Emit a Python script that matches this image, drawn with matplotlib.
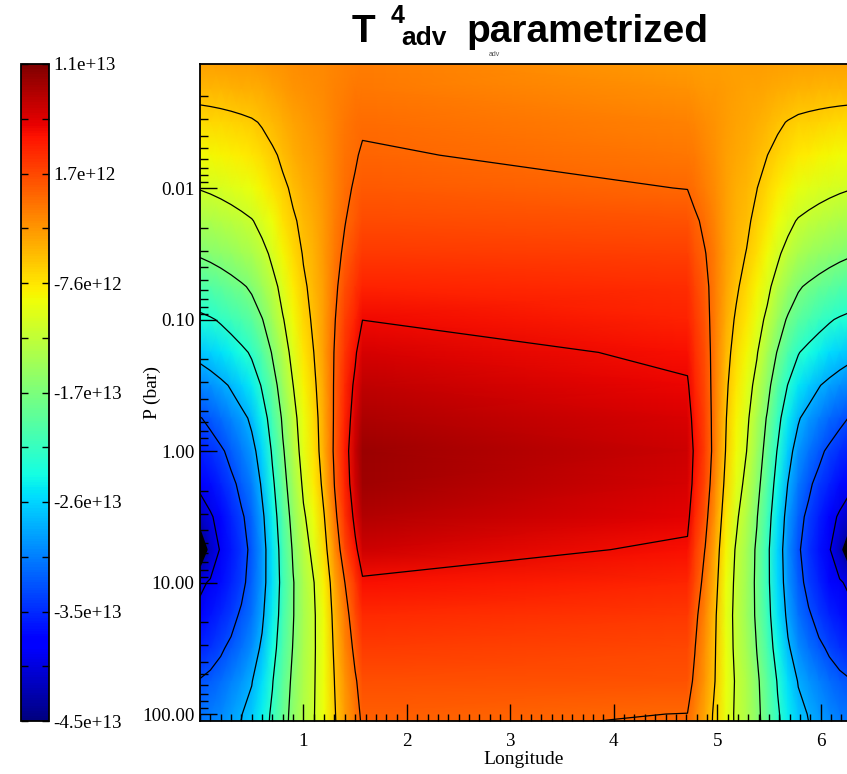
import matplotlib
matplotlib.use('Agg')
import matplotlib.pyplot as plt
import numpy as np
from matplotlib.ticker import FixedLocator, LogLocator, MultipleLocator, NullFormatter

# colour range of the field (units of 1e13)
vmin, vmax = -4.48, 1.10
cbar_labels = ['-4.5e+13', '-3.5e+13', '-2.6e+13', '-1.7e+13', '-7.6e+12', '1.7e+12', '1.1e+13']

# pressure levels, log10(bar)
logp = [-3.0, -2.75, -2.5, -2.25, -2.0, -1.75, -1.5, -1.25, -1.0, -0.75, -0.5,
        -0.25, 0.0, 0.25, 0.5, 0.75, 1.0, 1.25, 1.5, 1.75, 2.0, 2.25]

# night-side background value (1e13)
night = [-0.32, -0.49, -0.70, -0.90, -1.12, -1.38, -1.66, -2.00, -2.34, -2.71, -3.06,
         -3.38, -3.62, -3.80, -3.94, -4.00, -3.92, -3.77, -3.58, -3.34, -3.17, -3.06]
# depth of the cold spot at lon = 0 (1e13)
hole = [0, 0, 0, 0, 0, 0, 0, 0, 0, 0, 0,
        0, 0, 0.045, 0.234, 0.485, 0.084, 0, 0, 0, 0, 0]
# dayside values at the west (lon = pi/2) and east (lon = 3pi/2) terminators, 1e13
day_west = [-0.16, -0.10, -0.04, 0.01, 0.07, 0.15, 0.26, 0.40, 0.54, 0.68, 0.79,
            0.88, 0.96, 0.94, 0.85, 0.71, 0.49, 0.35, 0.24, 0.12, 0.04, -0.02]
day_east = [-0.35, -0.27, -0.18, -0.10, -0.02, 0.10, 0.21, 0.32, 0.40, 0.49, 0.57,
            0.65, 0.71, 0.68, 0.60, 0.49, 0.38, 0.26, 0.18, 0.10, -0.02, -0.07]

# night-side longitude profiles (0 = lon 0, 1 = terminator)
lon_half = [0, 0.1, 0.2, 0.3, 0.4, 0.5, 0.6, 0.7, 0.8, 0.9, 1.0, 1.1, 1.2, 1.3,
            1.4, 1.5, np.pi / 2]
w_night = [0, 0.02, 0.045, 0.075, 0.11, 0.15, 0.22, 0.31, 0.41, 0.50, 0.575, 0.63,
           0.70, 0.80, 0.885, 0.95, 1.0]
h_hole = [1, 0.55, 0.2, 0.05, 0, 0, 0, 0, 0, 0, 0, 0, 0, 0, 0, 0, 0]

# build the table
p = 10 ** np.array(logp)
night = np.array(night)[:, None]
hole = np.array(hole)[:, None]
w = np.array(w_night)[None, :]
h = np.array(h_hole)[None, :]
west = night + (np.array(day_west)[:, None] - night) * w - hole * h
east = night + (np.array(day_east)[:, None] - night) * w[:, ::-1] - hole * h[:, ::-1]
field = np.hstack([west, east]) * 1e13
lon_half = np.array(lon_half)
lon = np.concatenate([lon_half, 2 * np.pi - lon_half[::-1]])

rng = (vmax - vmin) * 1e13
levels = vmin * 1e13 + rng * np.array([0.1, 0.2, 0.3, 0.4, 0.5, 0.6, 0.7, 0.8, 0.9])
blob_level = vmin * 1e13 + rng * 0.035

serif = 'Liberation Serif'
fig = plt.figure(figsize=(8.47, 7.74), dpi=100)
W_px, H_px = 847, 774
ax = fig.add_axes([200 / W_px, 1 - 721 / H_px, 650 / W_px, 657 / H_px])

mesh = ax.pcolormesh(lon, p, field, shading='gouraud', cmap='jet',
                     vmin=vmin * 1e13, vmax=vmax * 1e13)
ax.contour(lon, p, field, levels=levels, colors='k', linewidths=0.9,
           linestyles='solid')
# the lowest contour collapses into a black spot at the cold centre
ax.contourf(lon, p, field, levels=[vmin * 1e13 - rng, blob_level], colors='k')
ax.contour(lon, p, field, levels=[blob_level], colors='k', linewidths=1.5,
           linestyles='solid')

ax.set_yscale('log')
ax.set_ylim(113, 0.00114)
ax.set_xlim(0, 2 * np.pi)

ax.yaxis.set_major_locator(FixedLocator([0.01, 0.1, 1, 10, 100]))
ax.set_yticklabels(['0.01', '0.10', '1.00', '10.00', '100.00'])
ax.yaxis.set_minor_locator(LogLocator(base=10, subs=np.arange(2, 10)))
ax.yaxis.set_minor_formatter(NullFormatter())
ax.xaxis.set_major_locator(FixedLocator([1, 2, 3, 4, 5, 6]))
ax.xaxis.set_minor_locator(MultipleLocator(0.1))
ax.tick_params(axis='both', which='both', direction='in', top=False, right=False, width=1)
ax.tick_params(axis='y', which='major', length=12, pad=4, labelsize=13.7)
ax.tick_params(axis='y', which='minor', length=6)
ax.tick_params(axis='x', which='major', length=12, pad=9, labelsize=13.7)
ax.tick_params(axis='x', which='minor', length=5)
for lab in ax.get_xticklabels() + ax.get_yticklabels():
    lab.set_family(serif)
for s in ax.spines.values():
    s.set_linewidth(1.3)

ax.set_ylabel('P (bar)', family=serif, fontsize=14)
ax.yaxis.set_label_coords(-0.074, 0.5)
ax.set_xlabel('Longitude', family=serif, fontsize=14)
ax.xaxis.set_label_coords(0.498, -0.059)
ax.xaxis.label.set_va('center')
ax.yaxis.label.set_va('center')

# colorbar
cax = fig.add_axes([21 / W_px, 1 - 721 / H_px, 28 / W_px, 657 / H_px])
cb = fig.colorbar(mesh, cax=cax)
cb.outline.set_linewidth(1.3)
cticks = np.linspace(vmin, vmax, 13) * 1e13
cb.set_ticks(cticks)
cb.set_ticklabels([cbar_labels[i // 2] if i % 2 == 0 else '' for i in range(13)])
cax.yaxis.set_ticks_position('both')
cax.tick_params(direction='in', length=5, width=1, left=True, right=True,
                labelleft=False, labelright=True, labelsize=13.7, pad=3)
cax.minorticks_off()
for lab in cax.get_yticklabels():
    lab.set_family(serif)

# title
def ftext(x, y, s, size, **kw):
    fig.text(x / W_px, 1 - y / H_px, s, fontsize=size, va='baseline', ha='left', **kw)

sans = 'Liberation Sans'
ftext(352, 42, 'T', 28, family=sans, weight='bold')
ftext(391, 23, '4', 18, family=sans, weight='bold')
ftext(401, 45, 'adv', 19, family=sans, weight='bold')
ftext(466, 42, 'parametrized', 28, family=sans, weight='bold')
ftext(489, 56, 'adv', 5, family=sans, color='#555555')

fig.savefig('out.png', dpi=100)
